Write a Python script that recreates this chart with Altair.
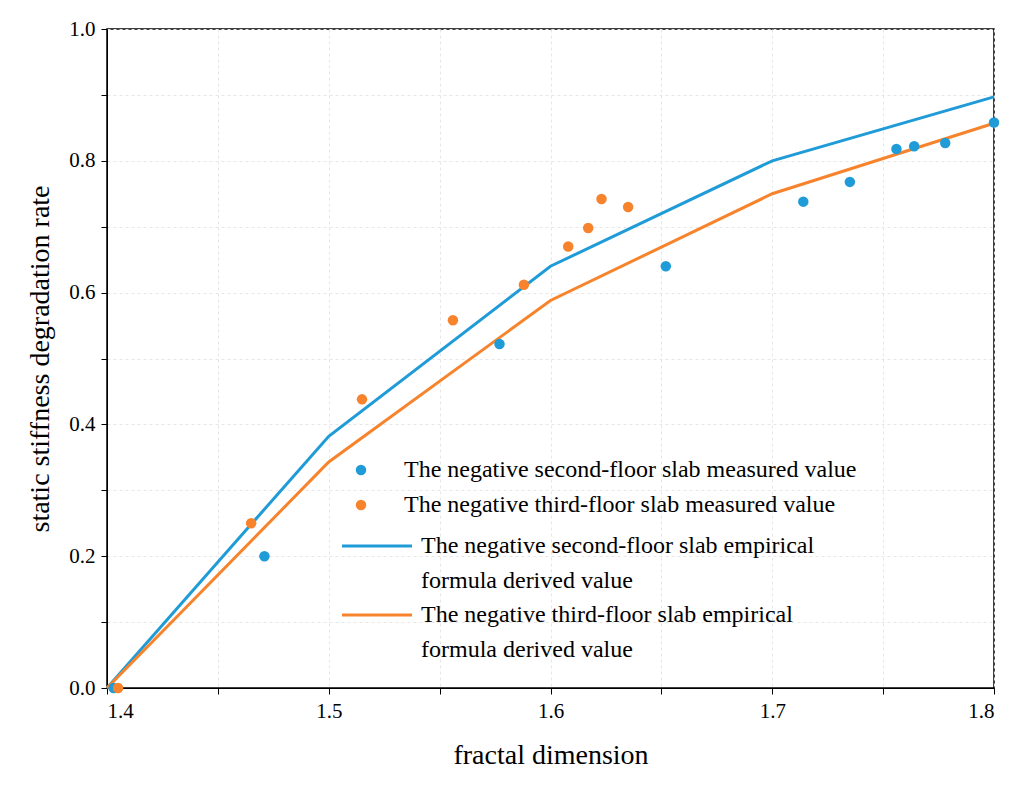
import altair as alt
import pandas as pd

blue_pts_x = [1.403, 1.471, 1.577, 1.652, 1.714, 1.735, 1.756, 1.764, 1.778, 1.800]
blue_pts_y = [0.000, 0.200, 0.522, 0.640, 0.738, 0.768, 0.818, 0.822, 0.827, 0.858]
orange_pts_x = [1.405, 1.465, 1.515, 1.556, 1.588, 1.608, 1.617, 1.623, 1.635]
orange_pts_y = [0.000, 0.250, 0.438, 0.558, 0.612, 0.670, 0.698, 0.742, 0.730]
line_x = [1.4, 1.5, 1.6, 1.7, 1.8]
blue_line_y = [0.0, 0.382, 0.640, 0.800, 0.897]
orange_line_y = [0.0, 0.343, 0.588, 0.750, 0.857]

BLUE = "#1f9bd7"
ORANGE = "#f7842d"
FONT = "Liberation Serif"

pts = pd.concat([
    pd.DataFrame({"x": blue_pts_x, "y": blue_pts_y, "s": "blue"}),
    pd.DataFrame({"x": orange_pts_x, "y": orange_pts_y, "s": "orange"}),
])
lines = pd.concat([
    pd.DataFrame({"x": line_x, "y": blue_line_y, "s": "blue"}),
    pd.DataFrame({"x": line_x, "y": orange_line_y, "s": "orange"}),
])

color = alt.Color("s:N", scale=alt.Scale(domain=["blue", "orange"], range=[BLUE, ORANGE]), legend=None)
xax = alt.X("x:Q", title="fractal dimension",
            scale=alt.Scale(domain=[1.4, 1.8], nice=False),
            axis=alt.Axis(values=[1.4, 1.45, 1.5, 1.55, 1.6, 1.65, 1.7, 1.75, 1.8],
                          labelExpr="round(datum.value*100) % 10 == 0 ? format(datum.value, '.1f') : ''",
                          gridDash=[3, 3], gridColor="#e6e6e6", titlePadding=20))
yax = alt.Y("y:Q", title="static stiffness degradation rate",
            scale=alt.Scale(domain=[0, 1], nice=False),
            axis=alt.Axis(values=[i / 10 for i in range(11)],
                          labelExpr="round(datum.value*10) % 2 == 0 ? format(datum.value, '.1f') : ''",
                          gridDash=[3, 3], gridColor="#e6e6e6", titlePadding=14))

line_layer = alt.Chart(lines).mark_line(strokeWidth=3).encode(x=xax, y=yax, color=color, detail="s:N")
pt_layer = alt.Chart(pts).mark_circle(size=110, opacity=1).encode(x="x:Q", y="y:Q", color=color)

leg = pd.DataFrame({
    "kind": ["pt", "pt", "ln", "ln"],
    "c": [BLUE, ORANGE, BLUE, ORANGE],
    "sx": [254, 254, 235, 235],
    "sy": [441, 476, 517, 586],
    "tx": [297, 297, 314, 314],
    "label": [
        ["The negative second-floor slab measured value"],
        ["The negative third-floor slab measured value"],
        ["The negative second-floor slab empirical", "formula derived value"],
        ["The negative third-floor slab empirical", "formula derived value"],
    ],
})
leg_pts = alt.Chart(leg).transform_filter("datum.kind == 'pt'").mark_circle(size=110, opacity=1).encode(
    x=alt.X("sx:Q", scale=None), y=alt.Y("sy:Q", scale=None), color=alt.Color("c:N", scale=None))
leg_lns = alt.Chart(leg).transform_filter("datum.kind == 'ln'").transform_calculate(
    sx2="datum.sx + 70").mark_rule(strokeWidth=3).encode(
    x=alt.X("sx:Q", scale=None), x2="sx2:Q", y=alt.Y("sy:Q", scale=None), color=alt.Color("c:N", scale=None))
leg_txt = alt.Chart(leg).mark_text(align="left", baseline="middle", font=FONT, fontSize=24,
                                   lineHeight=35).encode(
    x=alt.X("tx:Q", scale=None), y=alt.Y("sy:Q", scale=None), text="label")

chart = alt.layer(line_layer, pt_layer, leg_pts, leg_lns, leg_txt).properties(
    width=887, height=659, padding={"left": 18, "top": 10, "right": 4, "bottom": 5}
).configure_view(stroke="black", strokeWidth=1.5).configure_axis(
    labelFont=FONT, titleFont=FONT, labelFontSize=21, titleFontSize=28, titleFontWeight="normal",
    labelColor="black", titleColor="black", domainColor="black", tickColor="black",
    tickSize=6, labelPadding=6
)
chart.save("out.html", embed_options={"renderer": "svg", "actions": False})
